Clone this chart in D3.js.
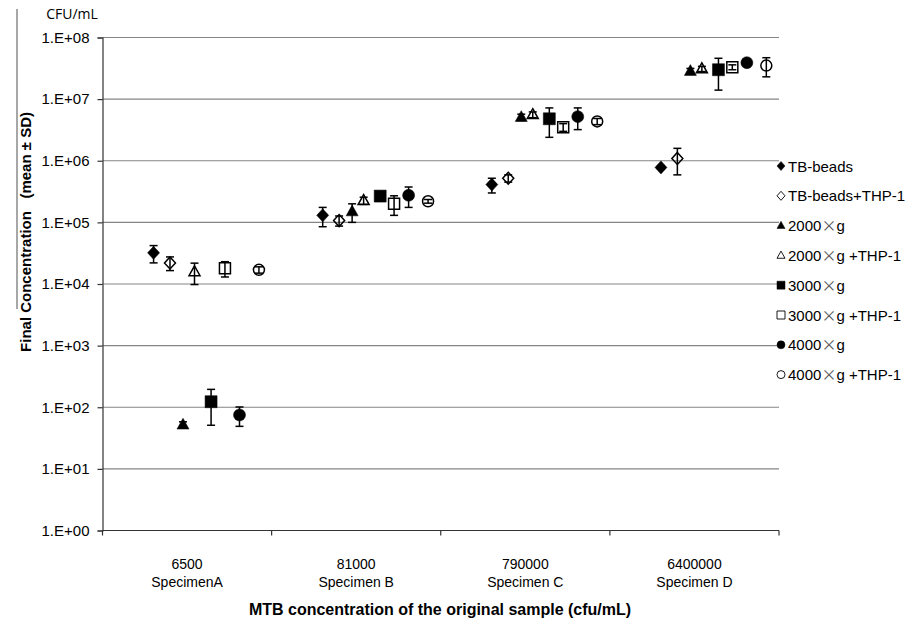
<!DOCTYPE html>
<html><head><meta charset="utf-8">
<script src="https://cdn.jsdelivr.net/npm/d3@7"></script>
<style>
html,body{margin:0;padding:0;background:#fff;}
svg text{font-family:"Liberation Sans",Arial,sans-serif;fill:#000;}
</style></head>
<body><svg id="c" width="924" height="629"></svg>
<script>
// ---- data ----
const categories = ["6500", "81000", "790000", "6400000"];
const specimens = ["SpecimenA", "Specimen B", "Specimen C", "Specimen D"];
const seriesNames = ["TB-beads", "TB-beads+THP-1", "2000×g", "2000×g +THP-1", "3000×g", "3000×g +THP-1", "4000×g", "4000×g +THP-1"];
const tbBeads        = [3.2e4, 1.3e5, 4.1e5, 7.8e5];
const tbBeadsSD      = [1.0e4, 4.5e4, 1.1e5, 5e4];
const tbBeadsTHP     = [2.2e4, 1.07e5, 5.2e5, 1.09e6];
const tbBeadsTHPSD   = [5.5e3, 2e4, 7e4, 5e5];
const g2000          = [52, 1.5e5, 5.1e6, 2.85e7];
const g2000SD        = [6, 5e4, 6e5, 3e6];
const g2000THP       = [1.58e4, 2.26e5, 5.6e6, 3.1e7];
const g2000THPSD     = [6e3, 3e4, 6e5, 3e6];
const g3000          = [123, 2.67e5, 4.8e6, 3.0e7];
const g3000SD        = [72, 2e4, 2.4e6, 1.6e7];
const g3000THP       = [1.8e4, 2.0e5, 3.5e6, 3.3e7];
const g3000THPSD     = [5e3, 7e4, 5e5, 3e6];
const g4000          = [75, 2.75e5, 5.2e6, 3.9e7];
const g4000SD        = [26, 1e5, 2e6, 3e6];
const g4000THP       = [1.7e4, 2.2e5, 4.35e6, 3.5e7];
const g4000THPSD     = [2e3, 1.5e4, 5e5, 1.2e7];
const yTickValues = [1e0, 1e1, 1e2, 1e3, 1e4, 1e5, 1e6, 1e7, 1e8];
const yTickLabels = ["1.E+00", "1.E+01", "1.E+02", "1.E+03", "1.E+04", "1.E+05", "1.E+06", "1.E+07", "1.E+08"];

const means = [tbBeads, tbBeadsTHP, g2000, g2000THP, g3000, g3000THP, g4000, g4000THP];
const sds = [tbBeadsSD, tbBeadsTHPSD, g2000SD, g2000THPSD, g3000SD, g3000THPSD, g4000SD, g4000THPSD];

// ---- style / layout ----
const markerShape = ["diamond", "diamond", "triangle", "triangle", "square", "square", "circle", "circle"];
const markerFilled = [true, false, true, false, true, false, true, false];
const seriesPos = [0.302, 0.399, 0.476, 0.544, 0.642, 0.724, 0.810, 0.925]; // fraction within category band

const svg = d3.select("#c");
const L = 102.5, R = 779, T = 37.5, B = 530.5;
const x = d3.scaleBand().domain(categories).range([L, R]);
const y = d3.scaleLog().domain([1, 1e8]).range([B, T]);

function markerPath(shape, s) {
  const h = s / 2;
  if (shape === "diamond") return `M0,${-h-0.5}L${h},0L0,${h+0.5}L${-h},0Z`;
  if (shape === "square") return `M${-h},${-h}H${h}V${h}H${-h}Z`;
  if (shape === "triangle") { const th = s * 0.9; return `M0,${-th*0.6}L${h},${th*0.4}L${-h},${th*0.4}Z`; }
  if (shape === "circle") return d3.symbol(d3.symbolCircle, Math.PI * h * h)();
}

// stray grey line at the far left
svg.append("line").attr("x1", 17).attr("x2", 17).attr("y1", 9).attr("y2", 309)
  .attr("stroke", "#8a8a8a").attr("stroke-width", 1.5);

// gridlines
svg.append("g").selectAll("line").data(yTickValues.slice(1)).join("line")
  .attr("x1", L).attr("x2", R).attr("y1", d => y(d)).attr("y2", d => y(d))
  .attr("stroke", "#858585").attr("stroke-width", 1.2);

// y axis
const yAxis = d3.axisLeft(y).tickValues(yTickValues)
  .tickFormat((d, i) => yTickLabels[i]).tickSize(5).tickPadding(8);
const gy = svg.append("g").attr("transform", `translate(${L},0)`).call(yAxis);
gy.select(".domain").attr("stroke", "#333").attr("stroke-width", 1.2);
gy.selectAll(".tick line").attr("stroke", "#333").attr("stroke-width", 1.2);
gy.selectAll("text").style("font-size", "15px").style("font-family", "Liberation Sans, Arial, sans-serif").attr("fill", "#000");

// x axis
svg.append("line").attr("x1", L).attr("x2", R).attr("y1", B).attr("y2", B).attr("stroke", "#333").attr("stroke-width", 1.2);
const bounds = categories.map(c => x(c)).concat([x(categories[categories.length - 1]) + x.bandwidth()]);
svg.append("g").selectAll("line").data(bounds).join("line")
  .attr("x1", d => d).attr("x2", d => d).attr("y1", B).attr("y2", B + 5)
  .attr("stroke", "#333").attr("stroke-width", 1.2);
const catG = svg.append("g").selectAll("g").data(categories).join("g")
  .attr("transform", d => `translate(${x(d) + x.bandwidth() / 2},0)`);
catG.append("text").attr("y", 569).attr("text-anchor", "middle").style("font-size", "14px").text(d => d);
catG.append("text").attr("y", 587).attr("text-anchor", "middle").style("font-size", "14px").text((d, i) => specimens[i]);

// titles
svg.append("text").attr("x", 440).attr("y", 615).attr("text-anchor", "middle")
  .style("font-size", "16px").style("font-weight", "bold").text("MTB concentration of the original sample (cfu/mL)");
svg.append("text").attr("transform", "translate(31,232) rotate(-90)").attr("text-anchor", "middle")
  .style("font-size", "15px").style("font-weight", "bold").text("Final Concentration\u00a0\u00a0\u00a0(mean ± SD)");
svg.append("text").attr("x", 72).attr("y", 19).attr("text-anchor", "middle")
  .style("font-size", "14px").style("font-family", "Open Sans, sans-serif").text("CFU/mL");

// data marks
const pts = [];
means.forEach((arr, si) => arr.forEach((v, ci) => pts.push({ si, ci, v, sd: sds[si][ci] })));
const px = d => x(categories[d.ci]) + seriesPos[d.si] * x.bandwidth();

const markG = svg.append("g");
markG.selectAll("path").data(pts).join("path")
  .attr("transform", d => `translate(${px(d)},${y(d.v)})`)
  .attr("d", d => markerPath(markerShape[d.si], markerFilled[d.si] ? 12 : 11))
  .attr("fill", d => markerFilled[d.si] ? "#000" : "none")
  .attr("stroke", "#000").attr("stroke-width", d => markerFilled[d.si] ? 0.5 : 1.5);

const errG = svg.append("g").attr("stroke", "#000").attr("stroke-width", 1.5);
pts.forEach(d => {
  const cx = px(d), y1 = y(d.v + d.sd), y2 = y(Math.max(d.v - d.sd, 1e-9));
  errG.append("line").attr("x1", cx).attr("x2", cx).attr("y1", y1).attr("y2", y2);
  errG.append("line").attr("x1", cx - 4).attr("x2", cx + 4).attr("y1", y1).attr("y2", y1);
  errG.append("line").attr("x1", cx - 4).attr("x2", cx + 4).attr("y1", y2).attr("y2", y2);
});

// legend
const legY0 = 166, legStep = 29.8;
const leg = svg.append("g").selectAll("g").data(seriesNames).join("g")
  .attr("transform", (d, i) => `translate(781,${legY0 + i * legStep})`);
leg.append("path")
  .attr("d", (d, i) => markerPath(markerShape[i], 8))
  .attr("fill", (d, i) => markerFilled[i] ? "#000" : "#fff")
  .attr("stroke", "#000").attr("stroke-width", (d, i) => markerFilled[i] ? 0.5 : 0.9);
const lt = leg.append("text").attr("x", 7).attr("y", 5.5).style("font-size", "15px");
lt.each(function (d) {
  const t = d3.select(this);
  const parts = d.split("×");
  t.append("tspan").text(parts[0]);
  if (parts.length > 1) {
    t.append("tspan").style("font-family", "Noto Sans CJK SC").style("fill", "#555").text("×");
    t.append("tspan").text(parts[1]);
  }
});
</script></body></html>
